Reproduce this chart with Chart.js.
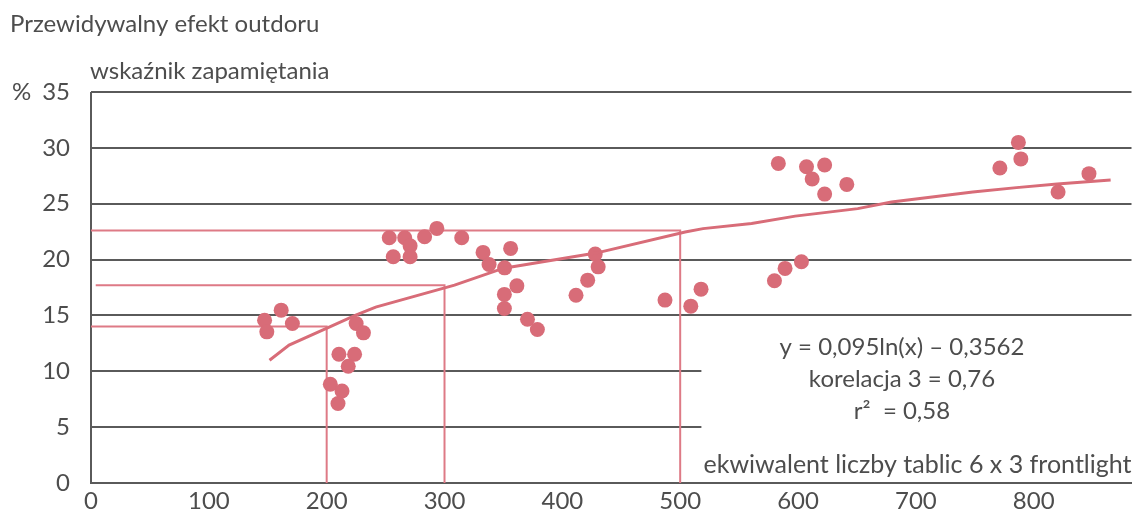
<!DOCTYPE html>
<html lang="pl">
<head>
<meta charset="utf-8">
<title>Przewidywalny efekt outdoru</title>
<script src="https://cdn.jsdelivr.net/npm/chart.js@4/dist/chart.umd.min.js"></script>
<style>
  html, body { margin: 0; padding: 0; background: #ffffff; }
  #wrap { width: 1139px; height: 512px; position: relative; }
</style>
</head>
<body>
<div id="wrap"><canvas id="c" width="1139" height="512"></canvas></div>
<script>
// Ekwiwalent liczby tablic 6 x 3 (oś X) i wskaźnik zapamiętania w % (oś Y)
const boardsX = [
  147.3, 161.4, 149.2, 170.9, 225.0, 231.2, 210.4, 223.7, 218.3, 203.1, 213.0, 209.6,
  253.1, 266.2, 270.8, 256.5, 270.8, 283.1, 293.5, 314.6, 332.7, 356.1, 337.8, 351.0,
  361.4, 350.8, 350.8, 370.4, 378.8,
  427.9, 430.4, 421.5, 411.6, 487.1, 509.0, 517.7,
  583.3, 607.2, 622.6, 612.0, 641.4, 622.6, 602.9, 589.0, 580.0,
  771.3, 787.0, 789.1, 820.7, 846.9
];
const recallY = [
  14.57, 15.47, 13.53, 14.28, 14.28, 13.44, 11.53, 11.53, 10.45, 8.84, 8.24, 7.11,
  21.95, 21.95, 21.23, 20.25, 20.25, 22.04, 22.79, 21.95, 20.64, 21.00, 19.56, 19.26,
  17.65, 16.88, 15.62, 14.66, 13.74,
  20.49, 19.35, 18.16, 16.81, 16.37, 15.83, 17.35,
  28.61, 28.31, 28.46, 27.21, 26.73, 25.86, 19.80, 19.21, 18.10,
  28.20, 30.49, 29.01, 26.05, 27.69
];

// Krzywa trendu (logarytmiczna)
const trendX = [151.5, 168.1, 202.6, 224.7, 241.6, 308.5, 350.2, 428.5, 504.2, 519.4,
                560.6, 597.6, 650.7, 679.3, 748.3, 785.4, 819.9, 865.3];
const trendY = [10.99, 12.34, 13.97, 15.02, 15.74, 17.71, 19.23, 20.58, 22.46, 22.77,
                23.22, 23.89, 24.56, 25.15, 26.04, 26.44, 26.76, 27.12];

// Linie pomocnicze odczytu: 200, 300 i 500 tablic
const guideX = [200, 300, 500];
const guideY = [14.0, 17.7, 22.6];
const guideStart = [0, 4, 0];

// Podziałki osi
const xTicks = [0, 100, 200, 300, 400, 500, 600, 700, 800];
const yTicks = [0, 5, 10, 15, 20, 25, 30, 35];
const X_MAX = 883;
// Linie siatki 5 i 10 kończą się przed opisem równania
const shortGridValues = [5, 10];
const shortGridEnd = 518;

const titleText = 'Przewidywalny efekt outdoru';
const yTitleText = 'wskaźnik zapamiętania';
const xTitleText = 'ekwiwalent liczby tablic 6 x 3 frontlight';
const equationLines = ['y = 0,095ln(x) \u2013 0,3562', 'korelacja 3 = 0,76', 'r\u00B2  = 0,58'];

const FONT = 'Lato, "Open Sans", sans-serif';
const TEXT = '#4d4d4d';
const GRID = '#5a5a5a';
const RED = '#d86c78';
const RED_GUIDE = '#de7a86';

const guideSets = guideX.map((gx, i) => ({
  type: 'line',
  data: [
    { x: guideStart[i], y: guideY[i] },
    { x: gx, y: guideY[i] },
    { x: gx, y: 0 }
  ],
  borderColor: RED_GUIDE,
  borderWidth: 2,
  pointRadius: 0,
  tension: 0,
  fill: false,
  order: 3
}));

const gridPlugin = {
  id: 'gridLines',
  beforeDatasetsDraw(chart) {
    const { ctx, chartArea, scales } = chart;
    const xs = scales.x, ys = scales.y;
    ctx.save();
    ctx.strokeStyle = GRID;
    ctx.lineWidth = 2;
    yTicks.forEach(v => {
      const py = Math.round(ys.getPixelForValue(v));
      const end = shortGridValues.includes(v) ? xs.getPixelForValue(shortGridEnd) : chartArea.right;
      ctx.beginPath();
      ctx.moveTo(chartArea.left, py);
      ctx.lineTo(end, py);
      ctx.stroke();
    });
    ctx.beginPath();
    ctx.moveTo(chartArea.left, ys.getPixelForValue(35));
    ctx.lineTo(chartArea.left, ys.getPixelForValue(0) + 1);
    ctx.stroke();
    ctx.restore();
  }
};

const textPlugin = {
  id: 'labels',
  afterDraw(chart) {
    const { ctx, chartArea, scales } = chart;
    ctx.save();
    ctx.fillStyle = TEXT;
    ctx.font = '24px ' + FONT;
    ctx.textBaseline = 'alphabetic';
    ctx.textAlign = 'left';
    ctx.fillText(titleText, 10, 32);
    ctx.fillText(yTitleText, 90, 79);
    ctx.textBaseline = 'middle';
    ctx.fillText('%', 12, scales.y.getPixelForValue(35));
    ctx.textAlign = 'center';
    const cx = 902;
    equationLines.forEach((t, i) => ctx.fillText(t, cx, 347 + i * 32));
    ctx.textAlign = 'right';
    ctx.font = '25px ' + FONT;
    ctx.fillText(xTitleText, chartArea.right, 465);
    ctx.restore();
  }
};

new Chart(document.getElementById('c'), {
  data: {
    datasets: [
      {
        type: 'line',
        data: trendX.map((x, i) => ({ x, y: trendY[i] })),
        borderColor: RED,
        borderWidth: 3,
        pointRadius: 0,
        tension: 0,
        fill: false,
        order: 1
      },
      {
        type: 'scatter',
        data: boardsX.map((x, i) => ({ x, y: recallY[i] })),
        backgroundColor: RED,
        borderWidth: 0,
        pointRadius: 7.5,
        order: 2
      },
      ...guideSets
    ]
  },
  options: {
    responsive: false,
    animation: false,
    devicePixelRatio: 1,
    layout: { padding: { top: 92, right: 2, left: 0, bottom: 0 } },
    plugins: { legend: { display: false }, tooltip: { enabled: false } },
    scales: {
      x: {
        type: 'linear',
        min: 0,
        max: X_MAX,
        grid: { display: false, drawTicks: false },
        border: { display: true, color: GRID, width: 2 },
        afterBuildTicks: s => { s.ticks = xTicks.map(v => ({ value: v })); },
        afterFit: s => { s.height = 29; },
        ticks: {
          color: TEXT,
          font: { family: FONT, size: 24 },
          padding: 4,
          maxRotation: 0,
          autoSkip: false
        }
      },
      y: {
        type: 'linear',
        min: 0,
        max: 35,
        grid: { display: false, drawTicks: false },
        border: { display: false },
        afterBuildTicks: s => { s.ticks = yTicks.map(v => ({ value: v })); },
        afterFit: s => { s.width = 91; s.paddingTop = 0; s.paddingBottom = 0; },
        ticks: {
          color: TEXT,
          font: { family: FONT, size: 24 },
          padding: 21
        }
      }
    }
  },
  plugins: [gridPlugin, textPlugin]
});
</script>
</body>
</html>
